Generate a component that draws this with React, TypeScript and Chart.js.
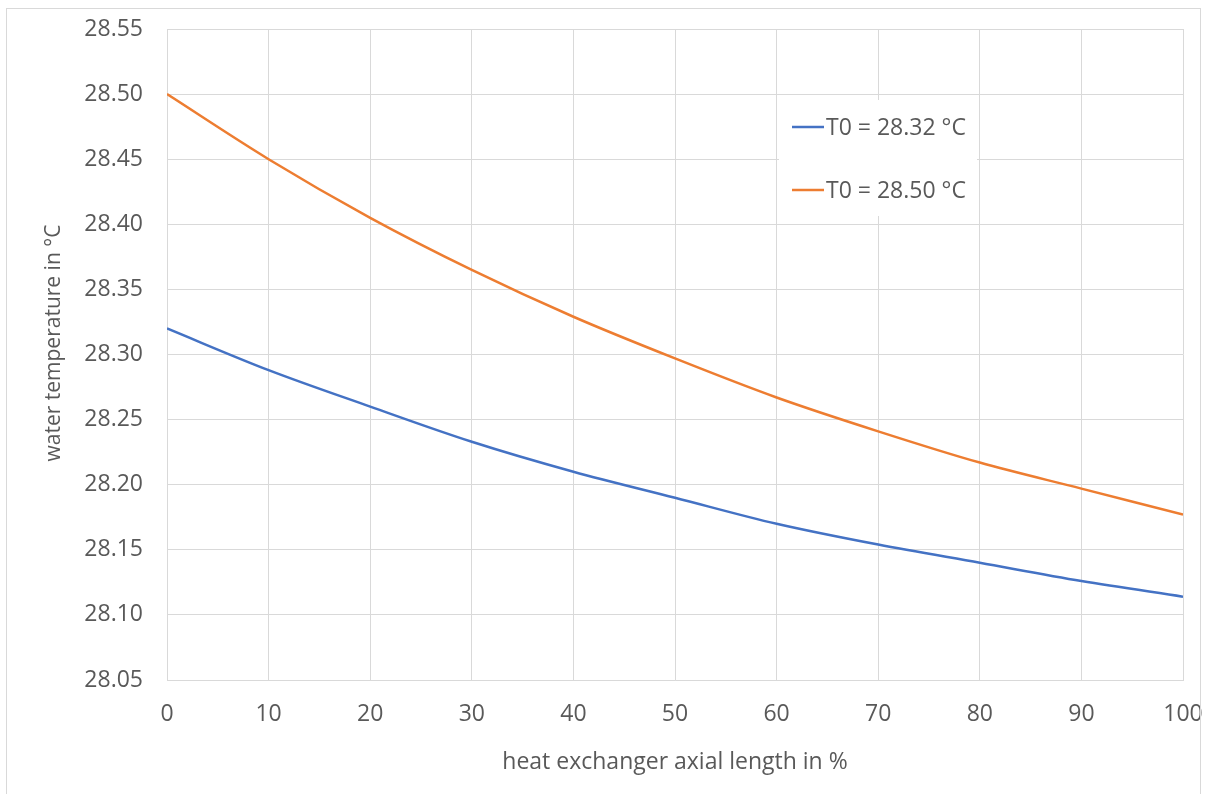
import React, { useEffect, useRef } from "react";
import { Chart, registerables } from "chart.js";

Chart.register(...registerables);

const axialLength = [0, 10, 20, 30, 40, 50, 60, 70, 80, 90, 100];
const seriesLow = [28.32, 28.288, 28.26, 28.233, 28.21, 28.19, 28.17, 28.154, 28.14, 28.126, 28.114];
const seriesHigh = [28.5, 28.45, 28.405, 28.365, 28.329, 28.297, 28.267, 28.241, 28.217, 28.197, 28.177];
const seriesLabels = ["T0 = 28.32 °C", "T0 = 28.50 °C"];
const seriesColors = ["#4472C4", "#ED7D31"];
const xTitle = "heat exchanger axial length in %";
const yTitle = "water temperature in °C";

const FONT = "'Open Sans', sans-serif";
const TEXT = "#595959";
const GRID = "#d9d9d9";

const frameAndLegend = {
  id: "frameAndLegend",
  afterDraw(chart: any) {
    const ctx = chart.ctx;
    ctx.save();
    ctx.strokeStyle = GRID;
    ctx.lineWidth = 1;
    ctx.strokeRect(6.5, 8.5, 1194, 800);
    // y axis title
    ctx.save();
    ctx.translate(54, 343);
    ctx.rotate(-Math.PI / 2);
    ctx.font = `21px ${FONT}`;
    ctx.fillStyle = TEXT;
    ctx.textAlign = "center";
    ctx.textBaseline = "middle";
    ctx.fillText(yTitle, 0, 0);
    ctx.restore();
    // legend box
    ctx.fillStyle = "#ffffff";
    ctx.fillRect(779, 100, 198, 116);
    const items = chart.data.datasets;
    const ys = [127, 190];
    ctx.font = `23px ${FONT}`;
    ctx.textBaseline = "middle";
    ctx.textAlign = "left";
    items.forEach((ds: any, i: number) => {
      const y = ys[i];
      ctx.strokeStyle = ds.borderColor;
      ctx.lineWidth = 2.5;
      ctx.beginPath();
      ctx.moveTo(792, y);
      ctx.lineTo(824, y);
      ctx.stroke();
      ctx.fillStyle = TEXT;
      ctx.fillText(ds.label, 826, y + 1);
    });
    ctx.restore();
  },
};

export default function App() {
  const ref = useRef<HTMLCanvasElement | null>(null);
  useEffect(() => {
    if (!ref.current) return;
    const chart = new Chart(ref.current, {
      type: "line",
      data: {
        datasets: [
          {
            label: seriesLabels[0],
            data: axialLength.map((x, i) => ({ x, y: seriesLow[i] })),
            borderColor: seriesColors[0],
            backgroundColor: seriesColors[0],
            borderWidth: 2.5,
            pointRadius: 0,
            cubicInterpolationMode: "monotone",
          },
          {
            label: seriesLabels[1],
            data: axialLength.map((x, i) => ({ x, y: seriesHigh[i] })),
            borderColor: seriesColors[1],
            backgroundColor: seriesColors[1],
            borderWidth: 2.5,
            pointRadius: 0,
            cubicInterpolationMode: "monotone",
          },
        ],
      },
      options: {
        animation: false,
        responsive: true,
        maintainAspectRatio: false,
        layout: { padding: { left: 8, right: 26, top: 29, bottom: 0 } },
        plugins: { legend: { display: false }, tooltip: { enabled: false } },
        scales: {
          x: {
            type: "linear",
            min: 0,
            max: 100,
            ticks: {
              stepSize: 10,
              color: TEXT,
              font: { family: FONT, size: 23 },
              padding: 21,
              maxRotation: 0,
            },
            grid: { color: GRID, drawTicks: false, lineWidth: 1 },
            border: { color: GRID },
            title: {
              display: true,
              text: xTitle,
              color: TEXT,
              font: { family: FONT, size: 23 },
              padding: { top: 0, bottom: 18 },
            },
            afterFit: (s: any) => {
              s.height = 114;
              s.paddingLeft = 0;
              s.paddingRight = 0;
              s.paddingTop = 0;
              s.paddingBottom = 0;
            },
          },
          y: {
            type: "linear",
            min: 28.05,
            max: 28.55,
            ticks: {
              stepSize: 0.05,
              color: TEXT,
              font: { family: FONT, size: 23 },
              padding: 24,
              callback: (v: any) => Number(v).toFixed(2),
            },
            grid: { color: GRID, drawTicks: false, lineWidth: 1 },
            border: { color: GRID },
            title: { display: false },
            afterFit: (s: any) => {
              s.width = 159;
              s.paddingLeft = 0;
              s.paddingRight = 0;
              s.paddingTop = 0;
              s.paddingBottom = 0;
            },
          },
        },
      },
      plugins: [frameAndLegend],
    });
    return () => chart.destroy();
  }, []);
  return (
    <div style={{ position: "fixed", left: 0, top: 0, width: 1209, height: 794, background: "#fff" }}>
      <canvas ref={ref} />
    </div>
  );
}
